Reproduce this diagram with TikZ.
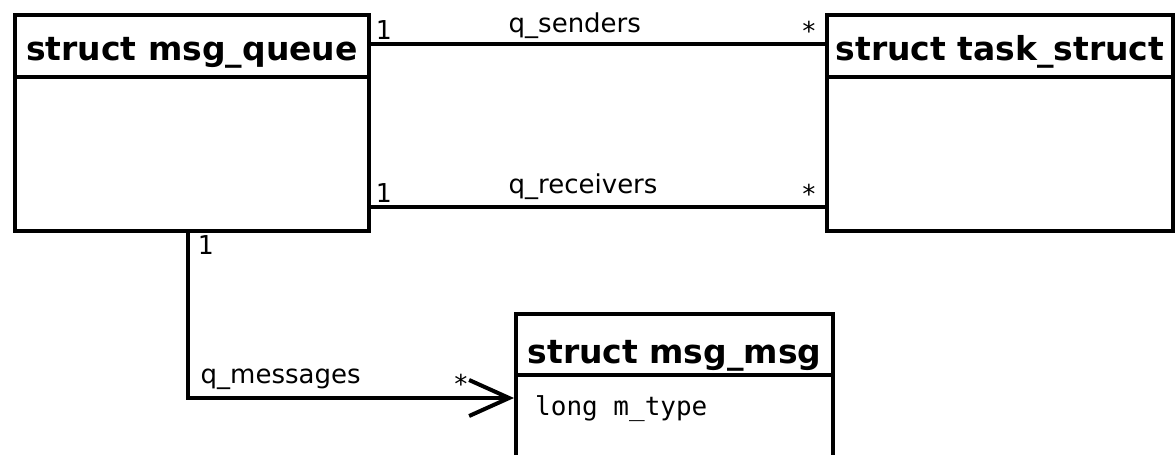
\documentclass[tikz,border=0pt]{standalone}
\usepackage{fontspec}
\setmainfont{DejaVu Sans}
\newfontfamily\monofont{DejaVu Sans Mono}
\usetikzlibrary{arrows.meta,calc}
\begin{document}
\begin{tikzpicture}[x=1pt,y=-1pt,
  classbox/.style={draw, line width=4pt, rectangle, inner sep=0pt, anchor=north west},
  head/.style={font=\fontsize{33}{33}\selectfont\bfseries, anchor=base, inner sep=0pt},
  lbl/.style={font=\fontsize{26}{26}\selectfont, anchor=base west, inner sep=0pt},
  mult/.style={font=\monofont\fontsize{26}{26}\selectfont, anchor=base, inner sep=0pt},
  attr/.style={font=\monofont\fontsize{26}{26}\selectfont, anchor=base west, inner sep=0pt},
  assoc/.style={draw, line width=4pt}]
\useasboundingbox (0,0) rectangle (1175,455);
\clip (0,0) rectangle (1175,455);
% class boxes
\node[classbox, minimum width=354pt, minimum height=216pt] (mq) at (13,13) {};
\node[classbox, minimum width=346pt, minimum height=216pt] (ts) at (825,13) {};
\node[classbox, minimum width=317pt, minimum height=170pt] (mm) at (514,312) {};
% header separators
\draw[line width=4pt] ($(mq.north west)+(0,64)$) -- ($(mq.north east)+(0,64)$);
\draw[line width=4pt] ($(ts.north west)+(0,64)$) -- ($(ts.north east)+(0,64)$);
\draw[line width=4pt] ($(mm.north west)+(0,63)$) -- ($(mm.north east)+(0,63)$);
% headers
\node[head] (mqh) at ($(mq.north)+(0,47)$) {struct msg\_queue};
\node[head] (tsh) at ($(ts.north)+(0,47)$) {struct task\_struct};
\node[head] (mmh) at ($(mm.north)+(0,51)$) {struct msg\_msg};
\node[attr] (mma) at (535,415) {long m\_type};
% connectors
\draw[assoc] ($(mq.north east)+(0,31)$) -- ($(ts.north west)+(0,31)$);
\draw[assoc] ($(mq.north east)+(0,194)$) -- ($(ts.north west)+(0,194)$);
\draw[assoc, -{Straight Barb[length=40pt,width=36pt]}] ($(mq.south west)+(175,0)$) |- ($(mm.north west)+(0,86)$);
% labels
\node[lbl] (ls) at (508.5,32) {q\_senders};
\node[lbl] (lr) at (508.5,193) {q\_receivers};
\node[lbl] (lm) at (200.5,383) {q\_messages};
\node[mult] (m1) at (383.5,39) {1};
\node[mult] (m2) at (383.5,202) {1};
\node[mult] (m3) at (205.5,254) {1};
\node[mult] (s1) at (809,40) {*};
\node[mult] (s2) at (809,203) {*};
\node[mult] (s3) at (461,393) {*};
\end{tikzpicture}
\end{document}
